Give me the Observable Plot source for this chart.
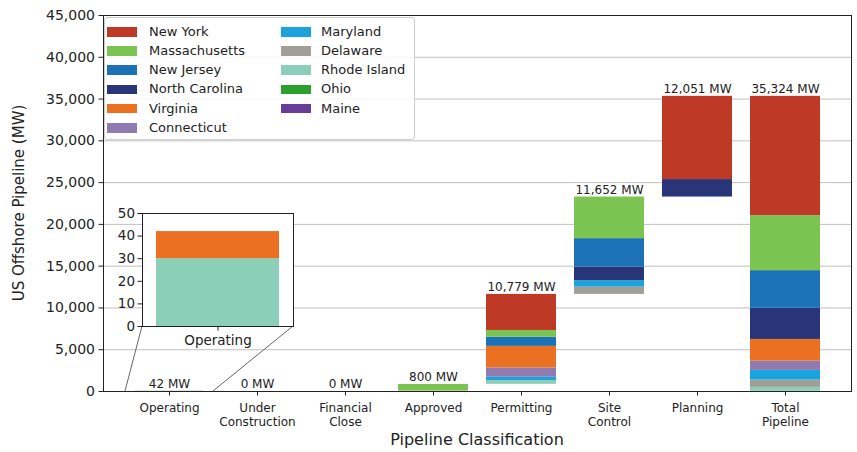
<!DOCTYPE html>
<html><head><meta charset="utf-8">
<script src="https://cdn.jsdelivr.net/npm/d3@7"></script>
<script src="https://cdn.jsdelivr.net/npm/@observablehq/plot@0.6"></script>
<style>
body{margin:0;background:#fff;font-family:"DejaVu Sans",sans-serif;}
#wrap{position:relative;width:857px;height:452px;overflow:hidden;}
#wrap > *{position:absolute;}
.lg{font-size:13px;color:#222;white-space:nowrap;line-height:1;}
</style></head><body><div id="wrap"></div>
<script>
const stages = ["Operating","Under Construction","Financial Close","Approved","Permitting","Site Control","Planning","Total Pipeline"];
const stageLabels = ["Operating","Under\nConstruction","Financial\nClose","Approved","Permitting","Site\nControl","Planning","Total\nPipeline"];
const states = ["New York","Massachusetts","New Jersey","North Carolina","Virginia","Connecticut","Maryland","Delaware","Rhode Island","Ohio","Maine"];
const colors = ["#bf3a26","#7cc452","#1b72b6","#283679","#eb7022","#8f7bb0","#1aa3dc","#a19e97","#8ccfb9","#2ca02c","#673d99"];
const yTicks = [0,5000,10000,15000,20000,25000,30000,35000,40000,45000];
const insetTicks = [0,10,20,30,40,50];
// MW by stage: Operating, Under Construction, Financial Close, Approved, Permitting, Site Control, Planning
const newYork       = [0,0,0,0,4316,0,9961];
const massachusetts = [0,0,0,800,804,4980,0];
const newJersey     = [0,0,0,0,1100,3400,0];
const northCarolina = [0,0,0,0,0,1640,2090];
const virginia      = [12,0,0,0,2587,0,0];
const connecticut   = [0,0,0,0,1108,0,0];
const maryland      = [0,0,0,0,400,760,0];
const delaware      = [0,0,0,0,0,872,0];
const rhodeIsland   = [30,0,0,0,431,0,0];
const ohio          = [0,0,0,0,21,0,0];
const maine         = [0,0,0,0,12,0,0];

const series = {"New York":newYork,"Massachusetts":massachusetts,"New Jersey":newJersey,"North Carolina":northCarolina,
  "Virginia":virginia,"Connecticut":connecticut,"Maryland":maryland,"Delaware":delaware,"Rhode Island":rhodeIsland,"Ohio":ohio,"Maine":maine};
const stackOrder = states.slice().reverse();

const rows = [], labelRows = [];
let cum = 0;
stages.forEach((stage, i) => {
  const last = i === stages.length - 1;
  const base = last ? 0 : cum;
  let y = base;
  for (const s of stackOrder) {
    const v = last ? d3.sum(series[s]) : series[s][i];
    if (v > 0) rows.push({stage, state: s, y1: y, y2: y + v});
    y += v;
  }
  const total = y - base;
  labelRows.push({stage, top: y, text: d3.format(",")(total) + " MW"});
  if (!last) cum += total;
});

const W = 857, H = 452;
const wrap = document.getElementById("wrap");
const font = "DejaVu Sans";

const main = Plot.plot({
  width: W, height: H,
  marginLeft: 103, marginRight: 6, marginTop: 15, marginBottom: 61,
  style: {fontFamily: font, color: "#222", background: "transparent"},
  x: {domain: stages, paddingInner: 0.2, paddingOuter: 0.32},
  y: {domain: [0, 45000]},
  color: {domain: states, range: colors},
  marks: [
    Plot.gridY(yTicks, {stroke: "#b0b0b0", strokeOpacity: 1, strokeWidth: 0.8}),
    Plot.barY(rows, {x: "stage", y1: "y1", y2: "y2", fill: "state"}),
    Plot.text(labelRows, {x: "stage", y: "top", text: "text", lineAnchor: "bottom", dy: -3, fontSize: 12, fill: "#222"}),
    Plot.axisY({ticks: yTicks, tickFormat: d3.format(","), tickSize: 4.5, tickPadding: 4, fontSize: 14, label: null}),
    Plot.axisX({tickFormat: (d) => stageLabels[stages.indexOf(d)], tickSize: 4.5, tickPadding: 6, fontSize: 12, lineHeight: 1.15, label: null}),
    Plot.frame({stroke: "#222", strokeWidth: 1})
  ]
});
main.style.left = "0px"; main.style.top = "0px";
wrap.appendChild(main);

// inset geometry
const insetLeft = 100, insetTop = 205;
const inset = Plot.plot({
  width: 200, height: 150,
  marginLeft: 42, marginRight: 7, marginTop: 8, marginBottom: 29,
  style: {fontFamily: font, color: "#222", background: "transparent"},
  x: {domain: ["Operating"], paddingInner: 0, paddingOuter: 0.109},
  y: {domain: [0, 50]},
  color: {domain: states, range: colors},
  marks: [
    Plot.frame({fill: "white", stroke: "none"}),
    Plot.barY(rows.filter(d => d.stage === "Operating"), {x: "stage", y1: "y1", y2: "y2", fill: "state"}),
    Plot.axisY({ticks: insetTicks, tickSize: 4.5, tickPadding: 3, fontSize: 13.5, label: null}),
    Plot.axisX({tickSize: 4.5, tickPadding: 4, fontSize: 13.5, label: null}),
    Plot.frame({stroke: "#222", strokeWidth: 1})
  ]
});

// connector lines from the inset box to the zoomed region in the main chart
const xs = main.scale("x"), ys = main.scale("y");
const cx = xs.apply("Operating") + xs.bandwidth / 2;
const regL = cx - xs.step / 2, regR = cx + xs.step / 2, regY = ys.apply(0);
const boxL = insetLeft + 42, boxR = insetLeft + 200 - 7, boxB = insetTop + 150 - 29;
const conn = d3.create("svg").attr("width", W).attr("height", H).style("left", "0px").style("top", "0px");
conn.append("line").attr("x1", boxL).attr("y1", boxB).attr("x2", regL).attr("y2", regY).attr("stroke", "#666").attr("stroke-width", 1);
conn.append("line").attr("x1", boxR).attr("y1", boxB).attr("x2", regR).attr("y2", regY).attr("stroke", "#666").attr("stroke-width", 1);
wrap.appendChild(conn.node());

inset.style.left = insetLeft + "px"; inset.style.top = insetTop + "px";
wrap.appendChild(inset);

// legend
const lg = document.createElement("div");
lg.style.cssText = "left:104px;top:17px;width:311px;height:123px;border:1px solid #cfcfcf;border-radius:3px;background:rgba(255,255,255,0.85);box-sizing:border-box;";
wrap.appendChild(lg);
states.forEach((s, i) => {
  const col = i < 6 ? 0 : 1, row = i < 6 ? i : i - 6;
  const y = 31.7 + row * 19.2;
  const sw = document.createElement("div");
  sw.style.cssText = `left:${col ? 281 : 107}px;top:${y - 4.7}px;width:30px;height:9.5px;background:${colors[i]};`;
  const tx = document.createElement("div");
  tx.className = "lg";
  tx.textContent = s;
  tx.style.cssText += `left:${col ? 321 : 149}px;top:${y - 7}px;`;
  wrap.appendChild(sw); wrap.appendChild(tx);
});

// axis titles
const yl = document.createElement("div");
yl.textContent = "US Offshore Pipeline (MW)";
yl.style.cssText = "left:19px;top:203px;font-size:15px;color:#222;white-space:nowrap;transform:translate(-50%,-50%) rotate(-90deg);";
wrap.appendChild(yl);
const xl = document.createElement("div");
xl.textContent = "Pipeline Classification";
xl.style.cssText = "left:477px;top:439px;font-size:16px;color:#222;white-space:nowrap;transform:translate(-50%,-50%);";
wrap.appendChild(xl);
</script></body></html>
